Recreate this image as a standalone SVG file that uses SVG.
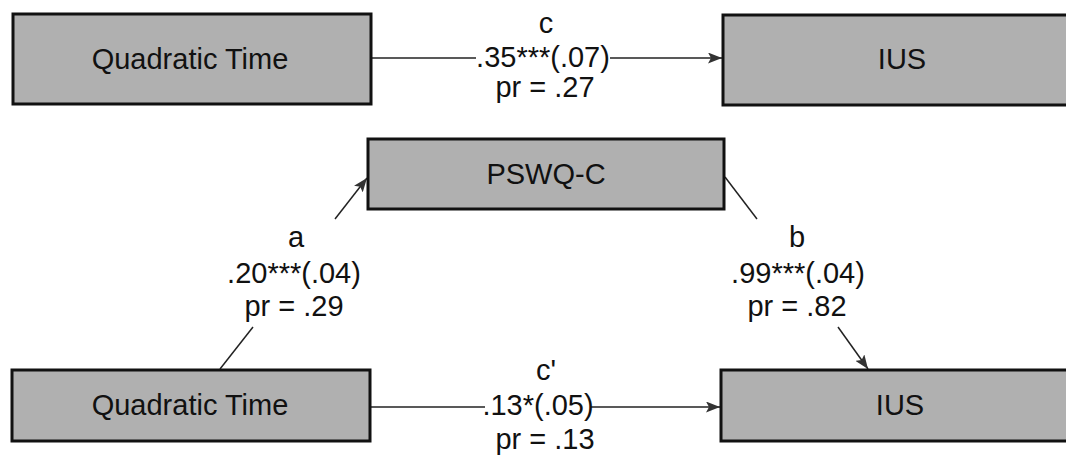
<svg xmlns="http://www.w3.org/2000/svg" width="1066" height="455" viewBox="0 0 1066 455">
<style>
.box{fill:#b0b0b0;stroke:#111;stroke-width:3}
.lbl{font-family:"Liberation Sans",Arial,sans-serif;font-size:29px;fill:#111;text-anchor:middle}
.edge{stroke:#222;stroke-width:1.5;fill:none}
</style>
<defs>
<marker id="arr" viewBox="0 0 14 11" refX="14" refY="5.5" markerWidth="14" markerHeight="11" markerUnits="userSpaceOnUse" orient="auto">
<path d="M0,0 L14,5.5 L0,11 L3,5.5 Z" fill="#333"/>
</marker>
</defs>
<rect width="1066" height="455" fill="#fff"/>
<g id="connectors">
<line class="edge" x1="372" y1="58" x2="476" y2="58"/>
<line class="edge" x1="610" y1="58" x2="722" y2="58" marker-end="url(#arr)"/>
<line class="edge" x1="371" y1="407" x2="485" y2="407"/>
<line class="edge" x1="591" y1="407" x2="720" y2="407" marker-end="url(#arr)"/>
<line class="edge" x1="220" y1="369" x2="253" y2="327"/>
<line class="edge" x1="335" y1="219" x2="367" y2="178" marker-end="url(#arr)"/>
<line class="edge" x1="725" y1="177" x2="757" y2="219"/>
<line class="edge" x1="838" y1="327" x2="868" y2="369" marker-end="url(#arr)"/>
<text class="lbl" x="546" y="33">c</text>
<text class="lbl" x="543" y="67">.35***(.07)</text>
<text class="lbl" x="545" y="97">pr = .27</text>
<text class="lbl" x="546" y="380">c'</text>
<text class="lbl" x="538" y="415">.13*(.05)</text>
<text class="lbl" x="545" y="449">pr = .13</text>
<text class="lbl" x="296" y="247">a</text>
<text class="lbl" x="294" y="283">.20***(.04)</text>
<text class="lbl" x="294" y="316">pr = .29</text>
<text class="lbl" x="797" y="247">b</text>
<text class="lbl" x="798" y="283">.99***(.04)</text>
<text class="lbl" x="797" y="316">pr = .82</text>
</g>
<g id="qt-top">
<rect class="box" x="13" y="14" width="358" height="90"/>
<text class="lbl" x="190" y="69">Quadratic Time</text>
</g>
<g id="ius-top">
<rect class="box" x="723" y="15" width="358" height="90"/>
<text class="lbl" x="902" y="69">IUS</text>
</g>
<g id="pswq">
<rect class="box" x="368" y="139" width="356" height="70"/>
<text class="lbl" x="546" y="184">PSWQ-C</text>
</g>
<g id="qt-bottom">
<rect class="box" x="12" y="370" width="358" height="71"/>
<text class="lbl" x="190" y="415">Quadratic Time</text>
</g>
<g id="ius-bottom">
<rect class="box" x="721" y="370" width="358" height="71"/>
<text class="lbl" x="900" y="415">IUS</text>
</g>
</svg>
